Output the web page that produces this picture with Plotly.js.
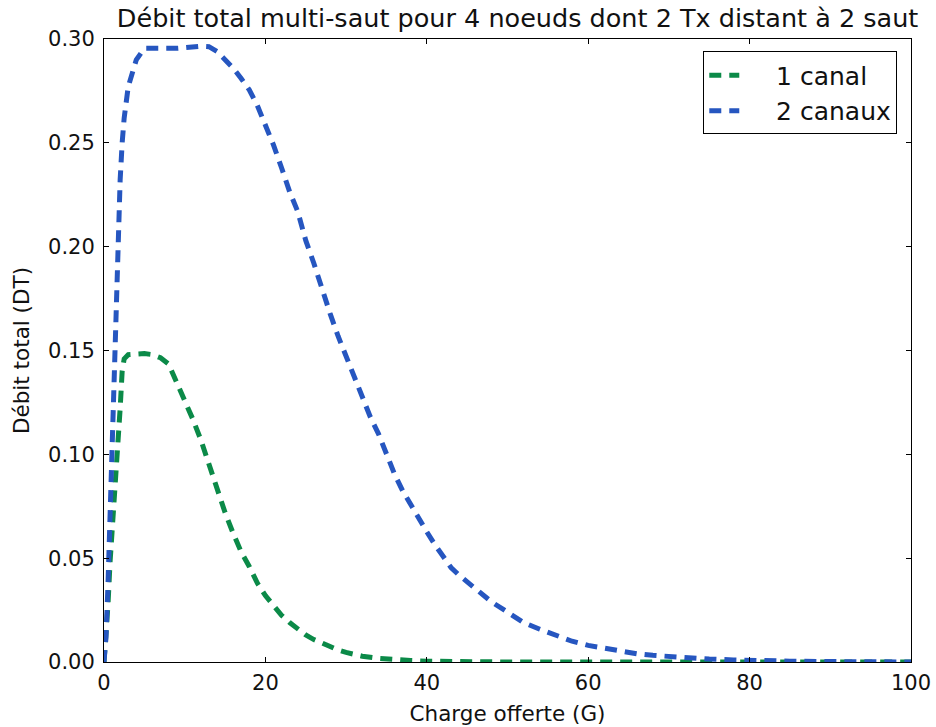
<!DOCTYPE html>
<html>
<head>
<meta charset="utf-8">
<script src="https://cdn.plot.ly/plotly-3.0.1.min.js"></script>
<style>html,body{margin:0;padding:0;background:#fff;}#chart{width:936px;height:727px;}</style>
</head>
<body>
<div id="chart"></div>
<script>
// Charge offerte (G) and throughput
const gCanal1 = [0,0.25,0.5,0.75,1,1.25,1.5,1.75,2,2.25,2.5,3,4,5,6,7,8,9,10,11,12,13,14,15,16,17,18,19,20,21,22,23,24,25,26,27,28,29,30,31,32,34,36,38,40,45,50,60,70,80,90,100];
const dtCanal1 = [0,0.012,0.028,0.048,0.062,0.074,0.088,0.102,0.122,0.14,0.146,0.148,0.1485,0.1485,0.148,0.1465,0.1435,0.135,0.1265,0.117,0.107,0.095,0.083,0.072,0.062,0.053,0.046,0.038,0.032,0.027,0.0225,0.019,0.0158,0.013,0.0108,0.009,0.0072,0.0058,0.0046,0.0036,0.0028,0.0018,0.0011,0.0007,0.0004,0.0001,0,0,0,0,0,0];

const gCanaux2 = [0,0.25,0.5,0.75,1,1.25,1.5,1.75,2,2.25,2.5,3,3.5,4,5,6,7,8,9,10,11,12,13,14,15,16,17,18,19,20,21,22,23,24,25,26,27,28,29,30,31,32,33,34,35,36,37,38,39,40,41,42,43,44,45,46,47,48,50,52,54,56,58,60,62,64,66,68,70,72,75,78,80,85,90,95,100];
const dtCanaux2 = [0,0.012,0.038,0.072,0.105,0.145,0.18,0.21,0.232,0.25,0.262,0.277,0.284,0.29,0.2955,0.2955,0.295,0.295,0.2955,0.2958,0.2962,0.2965,0.2963,0.294,0.29,0.286,0.281,0.2755,0.268,0.259,0.249,0.238,0.2265,0.217,0.203,0.192,0.179,0.168,0.157,0.147,0.137,0.127,0.118,0.11,0.0995,0.0905,0.0825,0.0755,0.069,0.0627,0.0565,0.051,0.0455,0.0418,0.0385,0.035,0.032,0.029,0.024,0.019,0.0158,0.0128,0.01,0.008,0.0065,0.0052,0.004,0.0032,0.0026,0.002,0.0014,0.001,0.0007,0.0004,0.0002,0.0001,0];

const seriesNames = ['1 canal', '2 canaux'];
const xTicks = [0,20,40,60,80,100];
const yTicks = [0,0.05,0.10,0.15,0.20,0.25,0.30];

const pad = '\u00a0\u00a0\u00a0\u00a0';
const traces = [
  {x: gCanal1, y: dtCanal1, name: pad + seriesNames[0], mode: 'lines',
   line: {color: '#0b8a48', width: 5, dash: '12px,8px'}},
  {x: gCanaux2, y: dtCanaux2, name: pad + seriesNames[1], mode: 'lines',
   line: {color: '#2656c0', width: 5, dash: '12px,8px'}}
];

const axisCommon = {
  showline: true, linecolor: '#000', linewidth: 1, mirror: 'allticks',
  ticks: 'inside', ticklen: 5, tickcolor: '#000', tickwidth: 1,
  showgrid: false, zeroline: false,
  tickfont: {family: 'DejaVu Sans', size: 21, color: '#111'}
};

const layout = {
  width: 936, height: 727,
  margin: {l: 104, r: 25, t: 39, b: 65},
  paper_bgcolor: '#fff', plot_bgcolor: '#fff',
  showlegend: true,
  title: {text: 'Débit total multi-saut pour 4 noeuds dont 2 Tx distant à 2 saut',
          font: {family: 'DejaVu Sans', size: 25.5, color: '#111'},
          xref: 'container', x: 0.553, xanchor: 'center',
          yref: 'container', y: 0.975, yanchor: 'middle'},
  xaxis: Object.assign({}, axisCommon, {
    range: [0, 100], tickvals: xTicks, ticktext: xTicks.map(String),
    ticklabelstandoff: 2,
    title: {text: 'Charge offerte (G)', font: {family: 'DejaVu Sans', size: 21.5, color: '#111'}, standoff: 11}
  }),
  yaxis: Object.assign({}, axisCommon, {
    range: [0, 0.30], tickvals: yTicks, ticktext: yTicks.map(v => v.toFixed(2)),
    ticklabelstandoff: 4,
    title: {text: 'Débit total (DT)', font: {family: 'DejaVu Sans', size: 21.5, color: '#111'}, standoff: 12}
  }),
  legend: {x: 0.983, xanchor: 'right', y: 0.98, yanchor: 'top',
           bordercolor: '#000', borderwidth: 1, bgcolor: '#fff',
           font: {family: 'DejaVu Sans', size: 25, color: '#111'}}
};

Plotly.newPlot('chart', traces, layout, {displayModeBar: false, staticPlot: true});
</script>
</body>
</html>
